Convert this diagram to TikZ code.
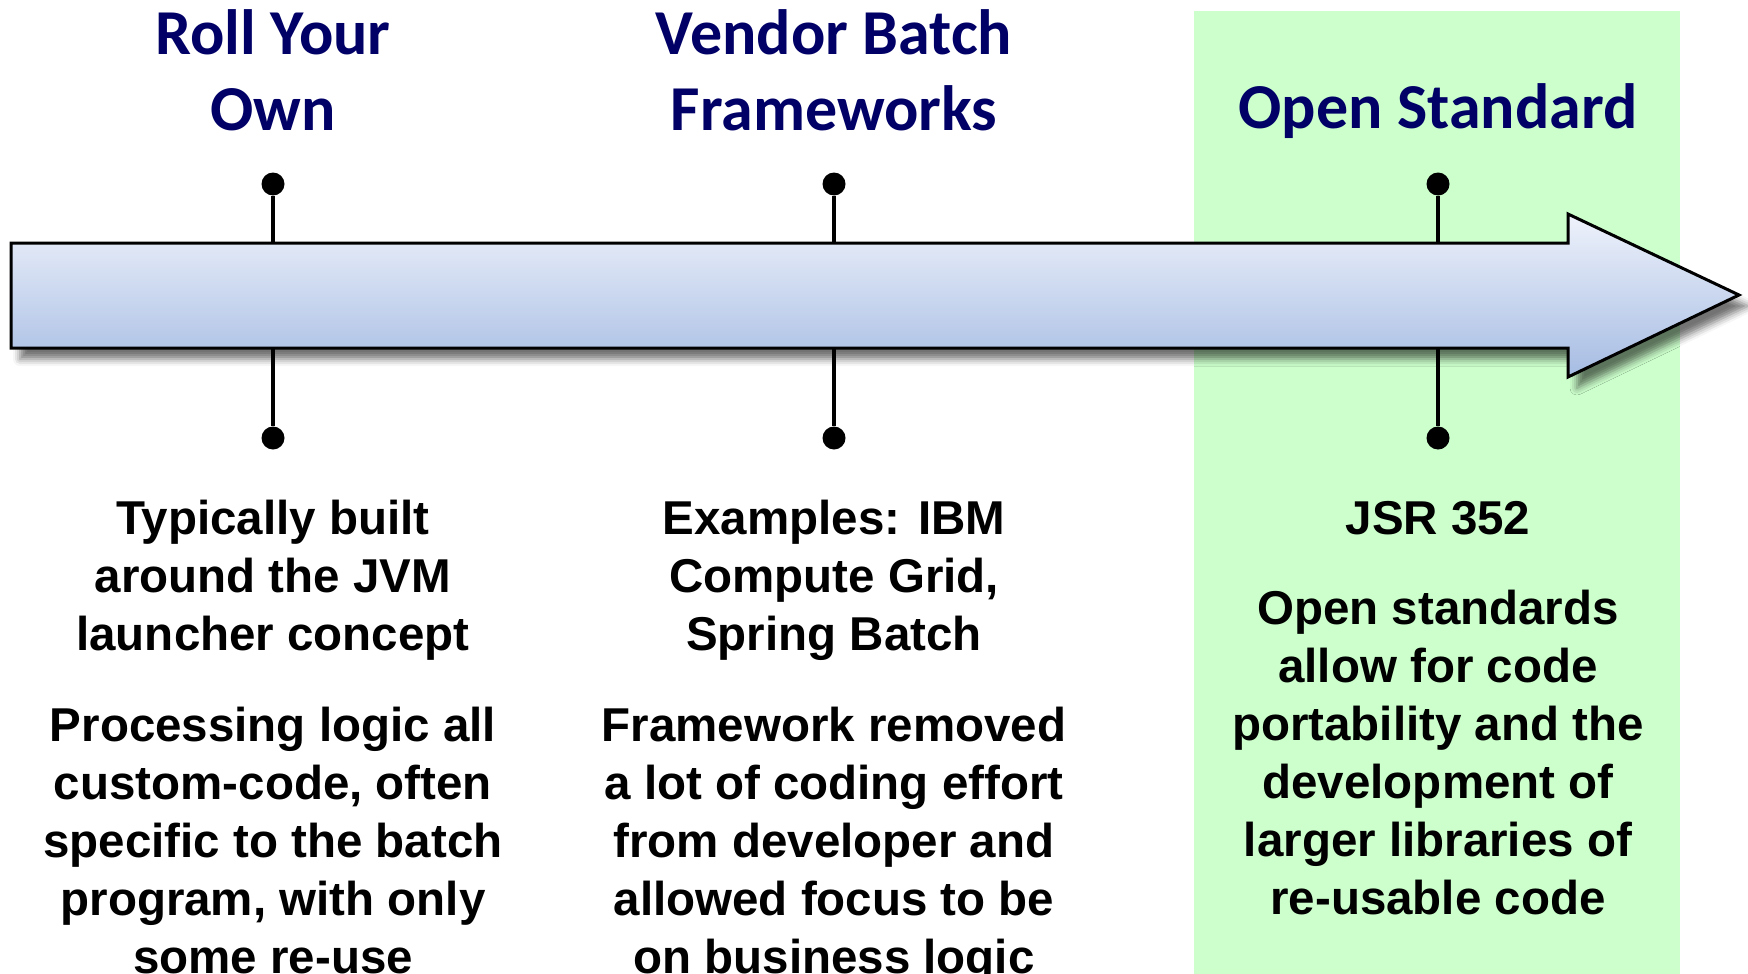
\documentclass[tikz,border=0pt]{standalone}
\usepackage{fontspec}
\setmainfont{Liberation Sans}
\newfontfamily\headfont{Carlito}
\usetikzlibrary{shadows.blur}

\definecolor{navy}{RGB}{0,0,102}
\definecolor{mint}{RGB}{204,255,204}
\definecolor{arrowtop}{RGB}{238,242,251}
\definecolor{arrowbot}{RGB}{166,188,227}

\tikzset{
    era/.style={font=\headfont\bfseries\fontsize{64}{76}\selectfont, text=navy, align=center},
    note/.style={font=\bfseries\fontsize{47.5}{58}\selectfont, align=center},
    pin/.style={circle, fill=black, inner sep=0pt, minimum size=23pt},
    stem/.style={line width=4pt},
}

\begin{document}
\begin{tikzpicture}[x=1pt,y=1pt]

    \useasboundingbox (0,0) rectangle (1748,-974);
    \fill[mint] (1194,-11) rectangle (1680,-974);

    \node[pin] (rollT) at (273,-184) {};
    \node[pin] (rollB) at (273,-438) {};
    \node[pin] (vendT) at (834,-184) {};
    \node[pin] (vendB) at (834,-438) {};
    \node[pin] (openT) at (1438,-184) {};
    \node[pin] (openB) at (1438,-438) {};
    \coordinate (rollU) at (273,-250);
    \coordinate (rollL) at (273,-340);
    \coordinate (vendU) at (834,-250);
    \coordinate (vendL) at (834,-340);
    \coordinate (openU) at (1438,-250);
    \coordinate (openL) at (1438,-340);
    \draw[stem] (rollT) -- (rollU);
    \draw[stem] (rollL) -- (rollB);
    \draw[stem] (vendT) -- (vendU);
    \draw[stem] (vendL) -- (vendB);
    \draw[stem] (openT) -- (openU);
    \draw[stem] (openL) -- (openB);

    \draw[line width=3pt, line join=miter, top color=arrowtop, bottom color=arrowbot,
        blur shadow={shadow xshift=9pt, shadow yshift=-11pt, shadow blur radius=7pt, shadow opacity=55}]
        (11,-243) -- (1568,-243) -- (1568,-214) -- (1739,-295)
        -- (1568,-377) -- (1568,-348) -- (11,-348) -- cycle;

    \node[era] (roll) at (273,-70) {Roll Your\\Own};
    \node[era] (vend) at (834,-70) {Vendor Batch\\Frameworks};
    \node[era] (open) at (1438,-111) {Open Standard};

    \node[note] (rollA) at (273,-580) {Typically built\\around the JVM\\launcher concept};
    \node[note] (rollC) at (273,-841) {Processing logic all\\custom-code, often\\specific to the batch\\program, with only\\some re-use};
    \node[note] (vendA) at (834,-580) {Examples: IBM\\Compute Grid,\\Spring Batch};
    \node[note] (vendC) at (834,-845) {Framework removed\\a lot of coding effort\\from developer and\\allowed focus to be\\on business logic};
    \node[note] (openA) at (1438,-518) {JSR 352};
    \node[note] (openC) at (1438,-753) {Open standards\\allow for code\\portability and the\\development of\\larger libraries of\\re-usable code};

\end{tikzpicture}
\end{document}
